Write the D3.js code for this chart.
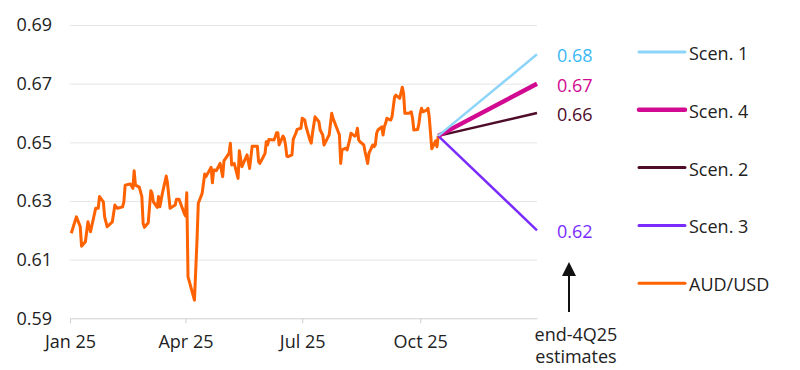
<!DOCTYPE html>
<html>
<head>
<meta charset="utf-8">
<script src="https://cdn.jsdelivr.net/npm/d3@7"></script>
<style>
  body { margin: 0; background: #fff; }
  svg text { font-family: "Open Sans", "Noto Sans", sans-serif; }
</style>
</head>
<body>
<svg id="chart"></svg>
<script>
//Canvas settings
var width = 800;
var height = 370;

//AUD/USD daily fixes
var audDates = [
  "2025-01-02","2025-01-06","2025-01-09","2025-01-10","2025-01-13","2025-01-15","2025-01-17","2025-01-21",
  "2025-01-23","2025-01-24","2025-01-27","2025-01-28","2025-01-30","2025-02-03","2025-02-05","2025-02-07",
  "2025-02-11","2025-02-12","2025-02-13","2025-02-17","2025-02-19","2025-02-20","2025-02-21","2025-02-24",
  "2025-02-26","2025-02-27","2025-02-28","2025-03-03","2025-03-05","2025-03-06","2025-03-07","2025-03-10",
  "2025-03-11","2025-03-12","2025-03-14","2025-03-17","2025-03-18","2025-03-20","2025-03-24","2025-03-25",
  "2025-03-27","2025-03-31","2025-04-01","2025-04-02","2025-04-03","2025-04-08","2025-04-10","2025-04-11",
  "2025-04-14","2025-04-16","2025-04-17","2025-04-21","2025-04-22","2025-04-23","2025-04-24","2025-04-25",
  "2025-04-28","2025-04-30","2025-05-01","2025-05-05","2025-05-06","2025-05-07","2025-05-09","2025-05-12",
  "2025-05-13","2025-05-15","2025-05-19","2025-05-21","2025-05-23","2025-05-27","2025-05-28","2025-05-29",
  "2025-06-02","2025-06-03","2025-06-04","2025-06-05","2025-06-09","2025-06-10","2025-06-11","2025-06-12",
  "2025-06-13","2025-06-16","2025-06-17","2025-06-18","2025-06-19","2025-06-20","2025-06-23","2025-06-24",
  "2025-06-26","2025-06-27","2025-06-30","2025-07-01","2025-07-03","2025-07-04","2025-07-07","2025-07-08",
  "2025-07-09","2025-07-11","2025-07-14","2025-07-15","2025-07-17","2025-07-18","2025-07-21","2025-07-22",
  "2025-07-24","2025-07-25","2025-07-28","2025-07-30","2025-07-31","2025-08-01","2025-08-04","2025-08-05",
  "2025-08-07","2025-08-08","2025-08-11","2025-08-12","2025-08-13","2025-08-14","2025-08-15","2025-08-18",
  "2025-08-19","2025-08-21","2025-08-22","2025-08-25","2025-08-26","2025-08-27","2025-08-28","2025-08-29",
  "2025-09-01","2025-09-02","2025-09-03","2025-09-04","2025-09-05","2025-09-08","2025-09-09","2025-09-10",
  "2025-09-11","2025-09-12","2025-09-15","2025-09-16","2025-09-17","2025-09-18","2025-09-19","2025-09-22",
  "2025-09-23","2025-09-24","2025-09-25","2025-09-26","2025-09-29","2025-09-30","2025-10-01","2025-10-02",
  "2025-10-03","2025-10-06","2025-10-07","2025-10-08","2025-10-09","2025-10-10","2025-10-13","2025-10-14",
  "2025-10-15"
];
var audValues = [
  0.6190,0.6246,0.6212,0.6146,0.6161,0.6229,0.6195,0.6275,
  0.6275,0.6315,0.6297,0.6246,0.6212,0.6229,0.6286,0.6275,
  0.6280,0.6297,0.6354,0.6358,0.6343,0.6403,0.6354,0.6347,
  0.6315,0.6224,0.6210,0.6226,0.6335,0.6326,0.6297,0.6278,
  0.6315,0.6280,0.6326,0.6385,0.6360,0.6275,0.6286,0.6306,
  0.6306,0.6258,0.6249,0.6328,0.6041,0.5962,0.6167,0.6292,
  0.6326,0.6392,0.6383,0.6415,0.6362,0.6406,0.6406,0.6403,
  0.6428,0.6383,0.6437,0.6463,0.6497,0.6423,0.6428,0.6377,
  0.6471,0.6417,0.6457,0.6411,0.6487,0.6487,0.6434,0.6428,
  0.6462,0.6502,0.6491,0.6510,0.6508,0.6519,0.6533,0.6533,
  0.6491,0.6521,0.6514,0.6491,0.6453,0.6451,0.6457,0.6510,
  0.6531,0.6544,0.6548,0.6582,0.6576,0.6553,0.6508,0.6497,
  0.6531,0.6587,0.6570,0.6542,0.6525,0.6491,0.6517,0.6525,
  0.6599,0.6582,0.6548,0.6525,0.6428,0.6474,0.6480,0.6474,
  0.6508,0.6531,0.6521,0.6525,0.6548,0.6508,0.6502,0.6491,
  0.6468,0.6428,0.6462,0.6491,0.6485,0.6491,0.6531,0.6542,
  0.6553,0.6525,0.6553,0.6565,0.6582,0.6576,0.6587,0.6621,
  0.6655,0.6661,0.6650,0.6669,0.6688,0.6667,0.6599,0.6599,
  0.6601,0.6604,0.6582,0.6542,0.6544,0.6565,0.6599,0.6616,
  0.6604,0.6610,0.6616,0.6587,0.6531,0.6478,0.6505,0.6485,
  0.6522
];

//Scenarios: start at the last fix, end at end-4Q25
var scenNames = ["Scen. 1", "Scen. 4", "Scen. 2", "Scen. 3"];
var scenStart = "2025-10-15";
var scenEnd = "2025-12-31";
var scenEndValues = [0.68, 0.67, 0.66, 0.62];
var scenLabels = ["0.68", "0.67", "0.66", "0.62"];
var scenColors = ["#8dd5f8", "#d10a91", "#4e0b2a", "#7a2cff"];
var scenLabelColors = ["#3bb8f4", "#d10a91", "#4e0b2a", "#7a2cff"];
var scenWidths = [2.5, 4.5, 2.5, 2.5];

//Axis ticks
var yTicks = [0.59, 0.61, 0.63, 0.65, 0.67, 0.69];
var xTicks = ["2025-01-01", "2025-04-01", "2025-07-01", "2025-10-01"];

//Legend (order as in the picture)
var legendNames = ["Scen. 1", "Scen. 4", "Scen. 2", "Scen. 3", "AUD/USD"];
var legendColors = ["#8dd5f8", "#d10a91", "#4e0b2a", "#7a2cff", "#ff6200"];
var legendWidths = [3, 4.5, 3, 3, 3];

var audColor = "#ff6200";
var parse = d3.timeParse("%Y-%m-%d");

var svg = d3.select("#chart")
  .attr("width", width)
  .attr("height", height);

var x = d3.scaleTime()
  .domain([parse("2025-01-01"), parse("2025-12-31")])
  .range([70, 537]);

var y = d3.scaleLinear()
  .domain([0.59, 0.69])
  .range([318.3, 25]);

//gridlines + y labels
var yAxis = svg.append("g")
  .attr("transform", "translate(70,0)")
  .call(d3.axisLeft(y)
    .tickValues(yTicks)
    .tickFormat(d3.format(".2f"))
    .tickSize(-(537 - 70))
    .tickPadding(18));
yAxis.select(".domain").remove();
yAxis.selectAll(".tick line")
  .attr("stroke", "#e6e6e6")
  .attr("stroke-width", 1)
  .filter(function(d) { return d == 0.59; }).remove();
yAxis.selectAll(".tick text")
  .attr("fill", "#222")
  .style("font-size", "18px");

//bottom axis
var xAxis = svg.append("g")
  .attr("transform", "translate(0," + y(0.59) + ")")
  .call(d3.axisBottom(x)
    .tickValues(xTicks.map(parse))
    .tickFormat(d3.timeFormat("%b %y"))
    .tickSize(5)
    .tickSizeOuter(0)
    .tickPadding(12));
xAxis.select(".domain").attr("stroke", "#cfcfcf");
xAxis.selectAll(".tick line").attr("stroke", "#cfcfcf");
xAxis.selectAll(".tick text")
  .attr("fill", "#222")
  .style("font-size", "18px");

//AUD/USD line
var audData = audDates.map(function(d, i) { return { date: parse(d), value: audValues[i] }; });
var line = d3.line()
  .x(function(d) { return x(d.date); })
  .y(function(d) { return y(d.value); });

svg.append("path")
  .datum(audData)
  .attr("fill", "none")
  .attr("stroke", audColor)
  .attr("stroke-width", 3)
  .attr("stroke-linejoin", "round")
  .attr("d", line);

//scenario lines, drawn bottom-up so Scen. 1 sits on top like in the picture
var startValue = audValues[audValues.length - 1];
var scenData = scenNames.map(function(name, i) {
  return {
    name: name,
    color: scenColors[i],
    width: scenWidths[i],
    points: [
      { date: parse(scenStart), value: startValue },
      { date: parse(scenEnd), value: scenEndValues[i] }
    ]
  };
});

svg.selectAll(".scen")
  .data(scenData.slice().reverse())
  .enter()
    .append("path")
  .attr("class", "scen")
  .attr("fill", "none")
  .attr("stroke", function(d) { return d.color; })
  .attr("stroke-width", function(d) { return d.width; })
  .attr("d", function(d) { return line(d.points); });

//end labels
svg.selectAll(".scenLabel")
  .data(scenData)
  .enter()
    .append("text")
  .attr("class", "scenLabel")
  .attr("x", x(parse(scenEnd)) + 20)
  .attr("y", function(d, i) { return y(scenEndValues[i]) + 1; })
  .attr("dominant-baseline", "central")
  .attr("fill", function(d, i) { return scenLabelColors[i]; })
  .style("font-size", "18px")
  .text(function(d, i) { return scenLabels[i]; });

//arrow + note
var ax = 569;
svg.append("line")
  .attr("x1", ax).attr("x2", ax)
  .attr("y1", 312).attr("y2", 272)
  .attr("stroke", "#111")
  .attr("stroke-width", 2);
svg.append("path")
  .attr("d", "M" + (ax - 7) + ",276 L" + ax + ",262 L" + (ax + 7) + ",276 Z")
  .attr("fill", "#111");

svg.append("text")
  .attr("x", 576).attr("y", 334)
  .attr("text-anchor", "middle")
  .attr("dominant-baseline", "central")
  .attr("fill", "#222")
  .style("font-size", "18px")
  .text("end-4Q25");
svg.append("text")
  .attr("x", 576).attr("y", 356)
  .attr("text-anchor", "middle")
  .attr("dominant-baseline", "central")
  .attr("fill", "#222")
  .style("font-size", "18px")
  .text("estimates");

//legend
var legend = svg.selectAll(".legend")
  .data(legendNames)
  .enter()
    .append("g")
  .attr("class", "legend")
  .attr("transform", function(d, i) { return "translate(639," + (52 + i * 57.8) + ")"; });

legend.append("line")
  .attr("x1", 0).attr("x2", 46)
  .attr("y1", 0).attr("y2", 0)
  .attr("stroke", function(d, i) { return legendColors[i]; })
  .attr("stroke-width", function(d, i) { return legendWidths[i]; })
  .attr("stroke-linecap", "round");

legend.append("text")
  .attr("x", 50)
  .attr("y", 1)
  .attr("dominant-baseline", "central")
  .attr("fill", "#222")
  .style("font-size", "18px")
  .text(function(d) { return d; });
</script>
</body>
</html>
